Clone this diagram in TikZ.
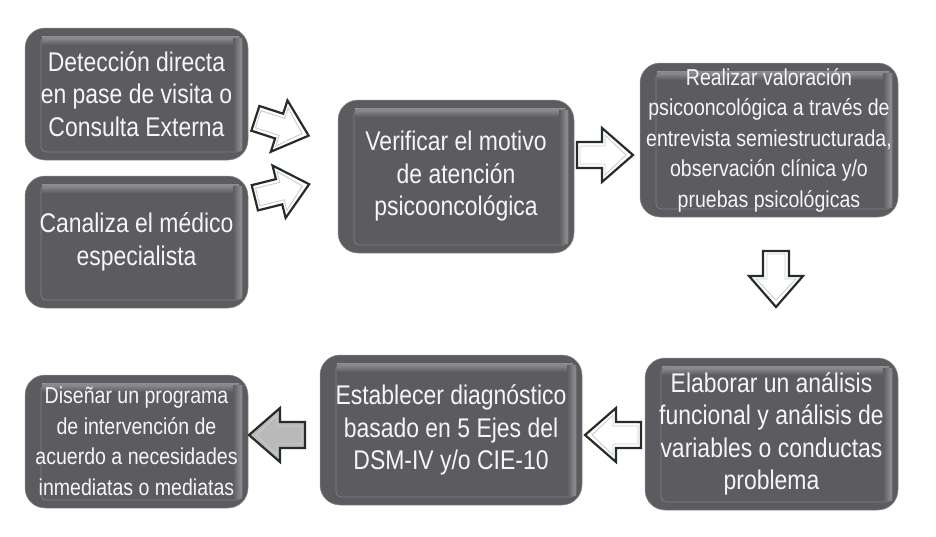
\documentclass[tikz,border=0pt]{standalone}
\usepackage{fontspec}
\setmainfont{Liberation Sans}[FakeStretch=0.85]
\usetikzlibrary{calc}
\definecolor{boxfill}{RGB}{92,91,96}
\definecolor{boxrim}{RGB}{140,140,144}
\definecolor{bevel}{RGB}{125,125,130}
\definecolor{hilite}{RGB}{150,150,155}
\definecolor{arrowline}{RGB}{36,46,36}
\definecolor{txt}{RGB}{246,246,246}
\newcommand\bigtxt{\fontsize{27}{32.5}\selectfont}
\newcommand\smalltxt{\fontsize{23}{30.5}\selectfont}
\newcommand\blockarrow[4]{%
  \begin{scope}[shift={#2}, rotate=#3]
    \coordinate (#1) at (0,0);
    \draw[arrowline, line width=2.2pt, line join=miter, #4]
      (-28,-13) -- (-3,-13) -- (-3,-27) -- (28,0) -- (-3,27) -- (-3,13) -- (-28,13) -- cycle;
    \draw[gray!40, line width=0.9pt, line join=miter]
      (-25,-9) -- (0,-9) -- (0,-20) -- (21,0) -- (0,20) -- (0,9) -- (-25,9) -- cycle;
  \end{scope}}
\tikzset{
  pbox/.style={rounded corners=20pt, fill=boxfill, draw=boxrim, line width=0.5pt,
    text=txt, align=center, inner sep=0pt,
    path picture={
      \coordinate (NW) at (path picture bounding box.north west);
      \coordinate (NE) at (path picture bounding box.north east);
      \coordinate (SE) at (path picture bounding box.south east);
      \shade[sharp corners, top color=hilite, bottom color=boxfill]
        ([xshift=17pt,yshift=-8pt]NW) rectangle ([xshift=-9pt,yshift=-17pt]NE);
      \shade[sharp corners, left color=boxfill, right color=hilite]
        ([xshift=-15pt,yshift=-10pt]NE) rectangle ([xshift=-6pt,yshift=10pt]SE);
      \draw[bevel, line width=0.8pt, rounded corners=5pt]
        ([xshift=16pt,yshift=-9pt]NW) rectangle ([xshift=-6pt,yshift=8pt]SE);
    }},
  bigbox/.style={pbox, font=\bigtxt},
  smallbox/.style={pbox, font=\smalltxt},
}
\begin{document}
\begin{tikzpicture}[x=1pt,y=-1pt]
\useasboundingbox (0,0) rectangle (936,536);
\node[bigbox, minimum width=223pt, minimum height=132pt] (b1) at (136.5,94)
  {Detección directa\\en pase de visita o\\Consulta Externa};
\node[bigbox, minimum width=223pt, minimum height=132pt] (b2) at (136.5,242)
  {Canaliza el médico\\especialista};
\node[bigbox, minimum width=236pt, minimum height=153pt] (b3) at (456,176.5)
  {Verificar el motivo\\de atención\\psicooncológica};
\node[smallbox, minimum width=258pt, minimum height=154pt] (b4) at (769,140)
  {Realizar valoración\\psicooncológica a través de\\entrevista semiestructurada,\\observación clínica y/o\\pruebas psicológicas};
\node[bigbox, minimum width=253pt, minimum height=152pt] (b5) at (771.5,434)
  {Elaborar un análisis\\funcional y análisis de\\variables o conductas\\problema};
\node[bigbox, minimum width=262pt, minimum height=150pt] (b6) at (451,430)
  {Establecer diagnóstico\\basado en 5 Ejes del\\DSM-IV y/o CIE-10};
\node[smallbox, minimum width=223pt, minimum height=133pt] (b7) at (136.5,441.5)
  {Diseñar un programa\\de intervención de\\acuerdo a necesidades\\inmediatas o mediatas};
\blockarrow{a1}{(282,127)}{-18}{fill=white}
\blockarrow{a2}{(282,191)}{14}{fill=white}
\blockarrow{a3}{(605,155)}{0}{fill=white}
\blockarrow{a4}{(776,279)}{-90}{fill=white}
\blockarrow{a5}{(613,435)}{180}{fill=white}
\blockarrow{a6}{(277,435)}{180}{fill=gray!55}
\end{tikzpicture}
\end{document}
